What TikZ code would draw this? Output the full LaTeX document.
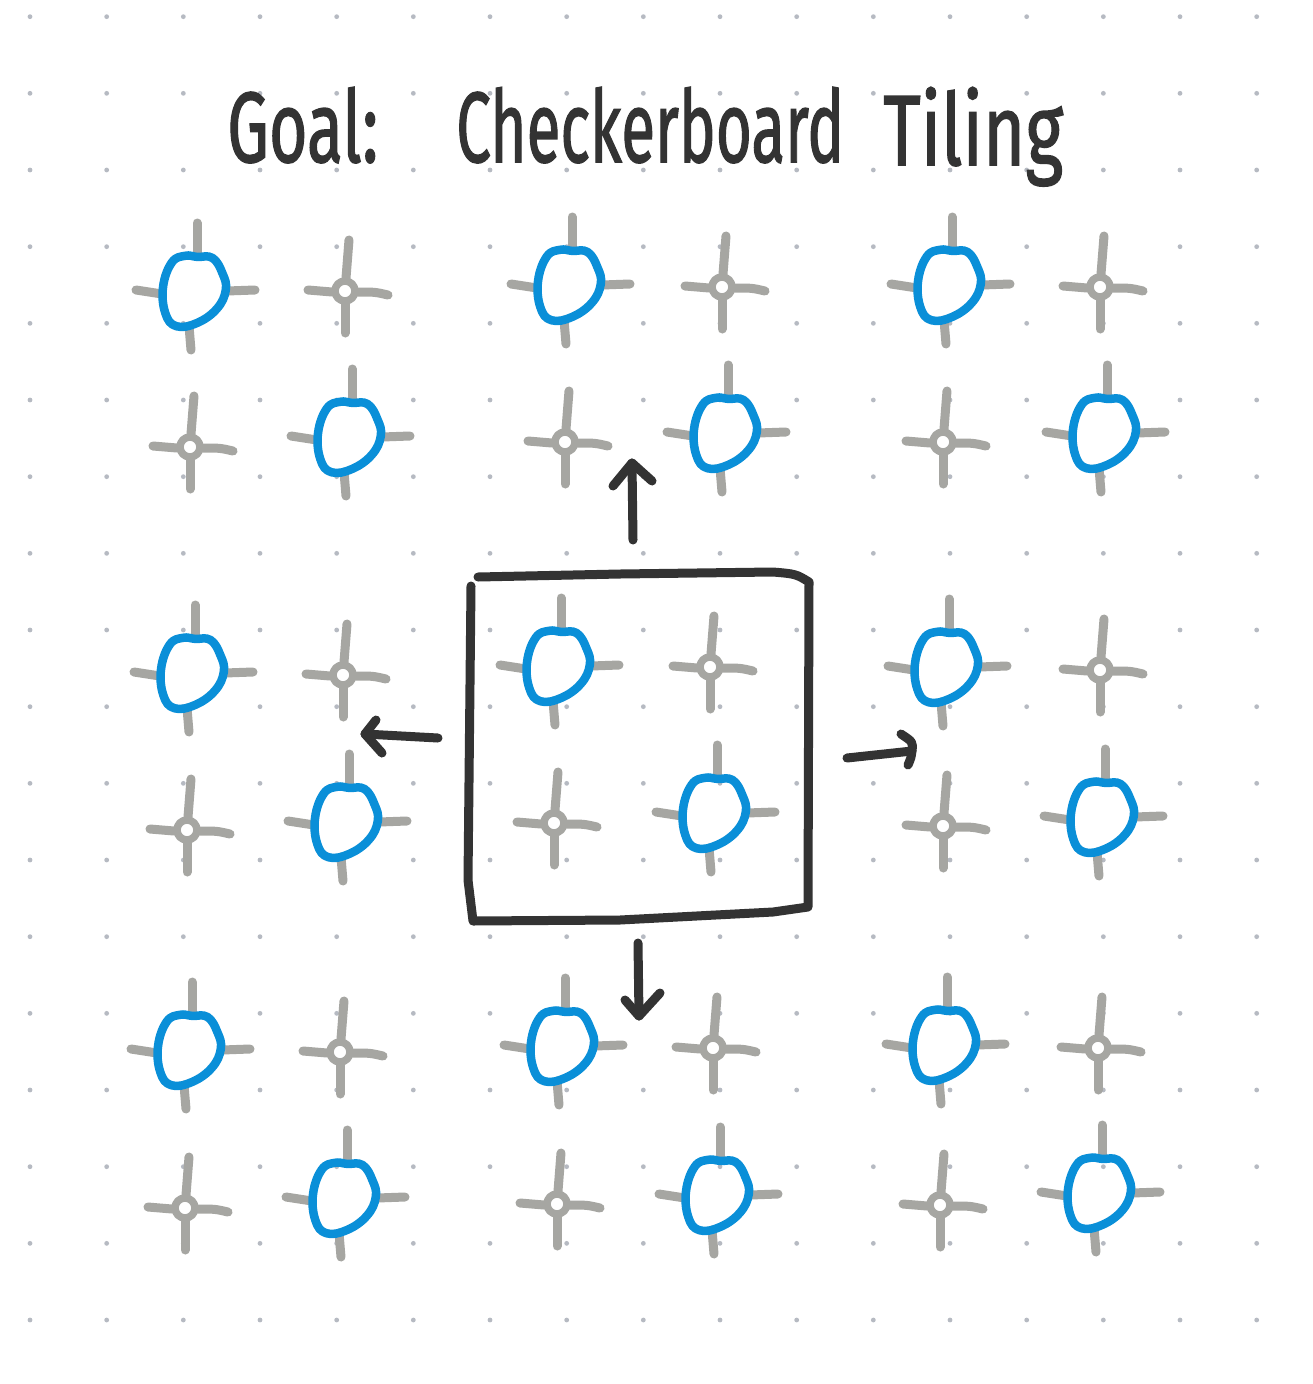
\documentclass[tikz,border=0pt]{standalone}
\usepackage{fontspec}
\setmainfont{Fira Sans}
\usepackage{graphicx}
\definecolor{ink}{HTML}{333333}
\definecolor{tileblue}{HTML}{0A8FD8}
\definecolor{tickgrey}{HTML}{A6A6A2}
\definecolor{dotgrey}{HTML}{B6BAC2}
\tikzset{
  tickline/.style={draw=tickgrey, line width=9pt, line cap=round, line join=round},
  ringline/.style={draw=tileblue, line width=8.5pt, line cap=round, line join=round},
  inkline/.style={draw=ink, line width=9pt, line cap=round, line join=round},
  titletext/.style={anchor=base west, inner sep=0pt, text=ink, font=\fontsize{100}{100}\selectfont\addfontfeature{FakeBold=1.5}},
  bluemotif/.pic={
    \draw[tickline] (2,-68) -- (2,-35);
    \draw[tickline] (-59,-1) -- (-33,3);
    \draw[tickline] (32,0) -- (60,-1);
    \draw[tickline] (-6,35) -- (-4,59);
    \draw[ringline, scale=1.1] plot[smooth cycle, tension=0.7] coordinates
      {(2,-31) (16,-30) (25,-16) (28,-1) (20,16) (2,29) (-17,32) (-27,20) (-29,-4) (-21,-26) (-9,-32)};
  },
  greymotif/.pic={
    \draw[tickline] (4,-51) -- (1,-13);
    \draw[tickline] (0,13) -- (0,42);
    \draw[tickline] (-37,-1) -- (-13,1);
    \draw[tickline] (13,1) .. controls (30,1) .. (43,4);
    \draw[tickline, line width=7.5pt] (0,0) circle (10pt);
  }
}
\begin{document}
\begin{tikzpicture}[x=1pt, y=-1pt]
  \useasboundingbox (0,0) rectangle (1312,1384);
  \fill[white] (0,0) rectangle (1312,1384);
  % dot grid
  \foreach \i in {0,...,16} {
    \foreach \j in {0,...,17} {
      \fill[dotgrey] ({30+76.667*\i},{16.667+76.667*\j}) circle (2.4pt);
    }
  }
  % title
  \node[titletext] (goal) at (227,162) {\resizebox{151pt}{\height}{Goal:}};
  \node[titletext] (checker) at (456,162) {\resizebox{388pt}{\height}{Checkerboard}};
  \node[titletext] (tiling) at (883,165) {\resizebox{180pt}{\height}{Tiling}};
  % tiles: row 0
  \pic at (195,291) {bluemotif};  \pic at (345,291) {greymotif};
  \pic at (190,447) {greymotif};  \pic at (350,437) {bluemotif};
  \pic at (570,285) {bluemotif};  \pic at (722,287) {greymotif};
  \pic at (565,442) {greymotif};  \pic at (726,433) {bluemotif};
  \pic at (950,285) {bluemotif};  \pic at (1100,287) {greymotif};
  \pic at (943,442) {greymotif};  \pic at (1105,433) {bluemotif};
  % row 1
  \pic at (193,673) {bluemotif};  \pic at (343,675) {greymotif};
  \pic at (187,830) {greymotif};  \pic at (347,822) {bluemotif};
  \pic at (559,666) {bluemotif};  \pic at (710,667) {greymotif};
  \pic at (554,823) {greymotif};  \pic at (715,813) {bluemotif};
  \pic at (947,667) {bluemotif};  \pic at (1100,670) {greymotif};
  \pic at (943,826) {greymotif};  \pic at (1103,817) {bluemotif};
  % row 2
  \pic at (190,1050) {bluemotif}; \pic at (340,1052) {greymotif};
  \pic at (185,1208) {greymotif}; \pic at (345,1198) {bluemotif};
  \pic at (563,1046) {bluemotif}; \pic at (713,1048) {greymotif};
  \pic at (557,1204) {greymotif}; \pic at (718,1195) {bluemotif};
  \pic at (945,1045) {bluemotif}; \pic at (1098,1048) {greymotif};
  \pic at (940,1205) {greymotif}; \pic at (1100,1193) {bluemotif};
  % central box
  \coordinate (boxTL) at (478,577);
  \coordinate (boxTR) at (809,582);
  \coordinate (boxBR) at (808,907);
  \coordinate (boxBL) at (473,921);
  \draw[inkline] (boxTL) -- (620,574) -- (773,572) .. controls (796,574) .. (boxTR)
     -- (boxBR) -- (773,912) -- (620,920) -- (boxBL) -- (468,880) -- (471,586);
  % arrows
  \coordinate (upS) at (633,540);   \coordinate (upT) at (632,463);
  \draw[inkline] (upS) -- (upT);
  \draw[inkline] (613,486) -- (upT) -- (652,481);
  \coordinate (leftS) at (438,738); \coordinate (leftT) at (365,734);
  \draw[inkline] (leftS) -- (leftT);
  \draw[inkline] (376,720) -- (leftT) -- (382,753);
  \coordinate (rightS) at (847,758); \coordinate (rightT) at (912,751);
  \draw[inkline] (rightS) -- (rightT);
  \draw[inkline] (901,734) .. controls (913,742) .. (rightT) .. controls (911,758) .. (908,765);
  \coordinate (downS) at (638,943); \coordinate (downT) at (639,1016);
  \draw[inkline] (downS) -- (downT);
  \draw[inkline] (625,1000) -- (downT) -- (660,993);
\end{tikzpicture}
\end{document}
